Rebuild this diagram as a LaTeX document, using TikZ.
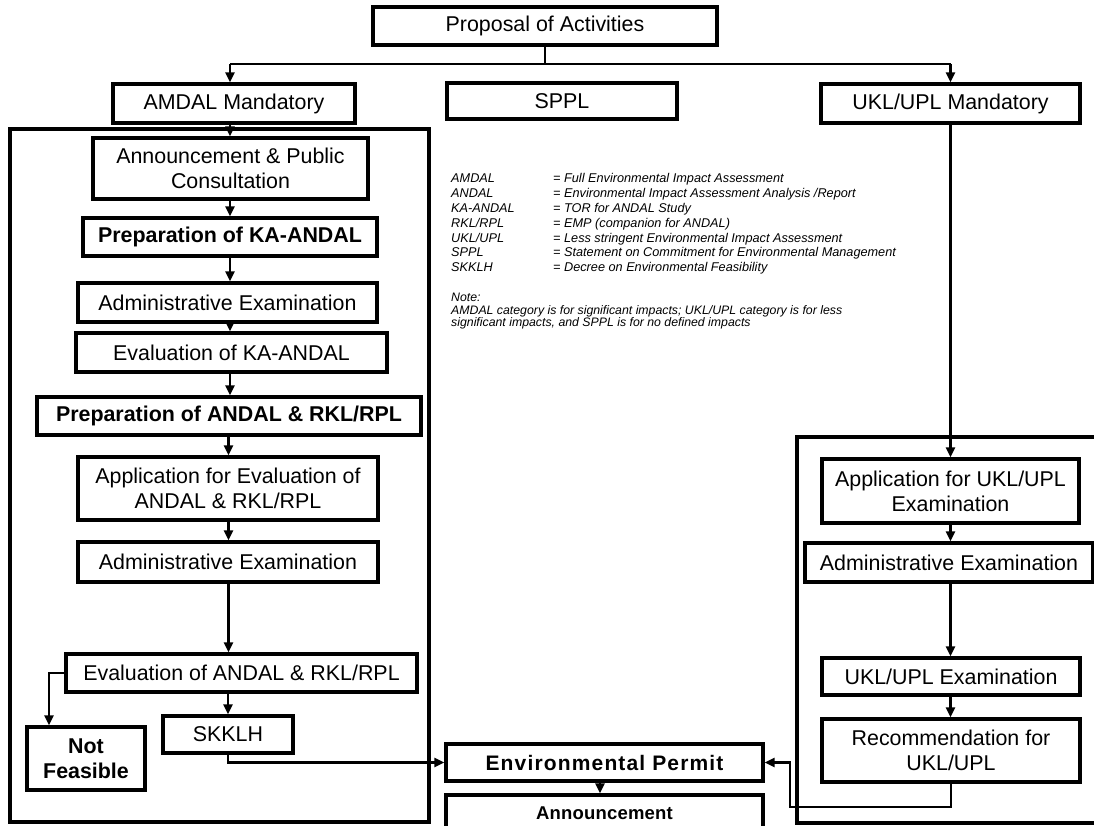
\documentclass[tikz,border=0pt]{standalone}
\usepackage{fontspec}
\setmainfont{Liberation Sans}
\newfontfamily\spacedA[LetterSpace=5.5]{Liberation Sans}
\newfontfamily\spacedB[LetterSpace=1]{Liberation Sans}
\usetikzlibrary{arrows.meta}
\begin{document}
\begin{tikzpicture}[x=1pt,y=-1pt,
  box/.style={draw, line width=3.2pt, inner sep=2pt, align=center, font=\fontsize{21.4}{25}\selectfont},
  bbox/.style={box, font=\fontsize{21.4}{25}\selectfont\bfseries},
  conn/.style={line width=2.7pt},
  arr/.style={conn, -{Triangle[length=10pt,width=9pt]}},
  frame/.style={line width=3.2pt},
  leg/.style={anchor=base west, inner sep=0pt, font=\fontsize{12.7}{14.9}\selectfont\itshape},
  notetext/.style={anchor=base west, inner sep=0pt, font=\fontsize{12.3}{12.5}\selectfont\itshape}]
\useasboundingbox (0,0) rectangle (1094,826);
\clip (0,0) rectangle (1094,826);
\fill[white] (0,0) rectangle (1094,826);

% frames
\draw[frame] (10,129) rectangle (429,822);
\draw[frame] (797,437) rectangle (1130,823);

% top level
\node[box, minimum width=344pt, minimum height=38pt] (prop) at (545,26) {Proposal of Activities};
\node[box, minimum width=242pt, minimum height=39pt] (amdalm) at (234,103.5) {AMDAL Mandatory};
\node[box, minimum width=230pt, minimum height=36pt] (sppl) at (562,101) {SPPL};
\node[box, minimum width=259pt, minimum height=39pt] (uklm) at (950.5,103.5) {UKL/UPL Mandatory};

% left column
\node[box, minimum width=275pt, minimum height=61pt] (ann) at (230.5,168.5) {Announcement \& Public\\Consultation};
\node[bbox, minimum width=294pt, minimum height=38pt] (prepka) at (230,237) {Preparation of KA-ANDAL};
\node[box, minimum width=299pt, minimum height=39pt] (adm1) at (227.5,302.5) {Administrative Examination};
\node[box, minimum width=311pt, minimum height=39pt] (evalka) at (231.5,352.5) {Evaluation of KA-ANDAL};
\node[bbox, minimum width=384pt, minimum height=38pt] (prepandal) at (229,416) {Preparation of ANDAL \& RKL/RPL};
\node[box, minimum width=300pt, minimum height=63pt] (appeval) at (228,488.5) {Application for Evaluation of\\ANDAL \& RKL/RPL};
\node[box, minimum width=300pt, minimum height=40pt] (adm2) at (228,562) {Administrative Examination};
\node[box, minimum width=351pt, minimum height=38pt] (evalandal) at (241.5,673) {Evaluation of ANDAL \& RKL/RPL};
\node[bbox, minimum width=118pt, minimum height=63pt] (notfeas) at (86,758.5) {Not\\Feasible};
\node[box, minimum width=130pt, minimum height=37pt] (skklh) at (228,734.5) {SKKLH};

% centre bottom
\node[draw, line width=3.2pt, minimum width=317pt, minimum height=37pt, font=\spacedA\fontsize{21}{24}\selectfont\bfseries] (envp) at (604.5,762.5) {Environmental Permit};
\node[draw, line width=3.2pt, minimum width=317pt, minimum height=37pt, font=\spacedB\fontsize{18.5}{21}\selectfont\bfseries] (annc) at (604.5,813.5) {Announcement};

% right column
\node[box, minimum width=257pt, minimum height=64pt] (appukl) at (950.5,491) {Application for UKL/UPL\\Examination};
\node[box, minimum width=288pt, minimum height=39pt] (adm3) at (949,562.5) {Administrative Examination};
\node[box, minimum width=258pt, minimum height=37pt] (uklexam) at (951,676.5) {UKL/UPL Examination};
\node[box, minimum width=258pt, minimum height=63pt] (recom) at (951,750.5) {Recommendation for\\UKL/UPL};

% legend
\node[leg] (a1) at (451,182.5) {AMDAL};
\node[leg] (d1) at (553,182.5) {= Full Environmental Impact Assessment};
\node[leg] (a2) at (451,197.4) {ANDAL};
\node[leg] (d2) at (553,197.4) {= Environmental Impact Assessment Analysis /Report};
\node[leg] (a3) at (451,212.3) {KA-ANDAL};
\node[leg] (d3) at (553,212.3) {= TOR for ANDAL Study};
\node[leg] (a4) at (451,227.2) {RKL/RPL};
\node[leg] (d4) at (553,227.2) {= EMP (companion for ANDAL)};
\node[leg] (a5) at (451,242.1) {UKL/UPL};
\node[leg] (d5) at (553,242.1) {= Less stringent Environmental Impact Assessment};
\node[leg] (a6) at (451,257.0) {SPPL};
\node[leg] (d6) at (553,257.0) {= Statement on Commitment for Environmental Management};
\node[leg] (a7) at (451,271.9) {SKKLH};
\node[leg] (d7) at (553,271.9) {= Decree on Environmental Feasibility};
\node[notetext] (n0) at (451,301.5) {Note:};
\node[notetext] (n1) at (451,314) {AMDAL category is for significant impacts; UKL/UPL category is for less};
\node[notetext] (n2) at (451,326.5) {significant impacts, and SPPL is for no defined impacts};

% connectors top
\coordinate (jl) at (230,64);
\coordinate (jr) at (950.5,64);
\draw[conn] (prop.south) -- (prop.south |- jl);
\draw[conn] (jl) -- (jr);
\draw[arr] (jl) -- (jl |- amdalm.north);
\draw[arr] (jr) -- (jr |- uklm.north);

% left column connectors
\draw[arr] (amdalm.south -| jl) -- (ann.north -| jl);
\draw[arr] (ann.south -| jl) -- (prepka.north -| jl);
\draw[arr] (prepka.south -| jl) -- (adm1.north -| jl);
\draw[arr] (adm1.south -| jl) -- (evalka.north -| jl);
\draw[arr] (evalka.south -| jl) -- (prepandal.north -| jl);
\coordinate (jl2) at (228.5,0);
\draw[arr] (prepandal.south -| jl2) -- (appeval.north -| jl2);
\draw[arr] (appeval.south -| jl2) -- (adm2.north -| jl2);
\draw[arr] (adm2.south -| jl2) -- (evalandal.north -| jl2);
\draw[arr] (evalandal.south -| skklh.north) -- (skklh.north);
\coordinate (nfc) at (49,673);
\draw[arr] (evalandal.west) -- (nfc) -- (nfc |- notfeas.north);
\draw[arr] (skklh.south) |- (envp.west);
\coordinate (ea) at (600,0);
\draw[arr] (envp.south -| ea) -- (annc.north -| ea);

% right column connectors
\coordinate (jr2) at (950.5,0);
\draw[arr] (uklm.south -| jr2) -- (appukl.north -| jr2);
\draw[arr] (appukl.south -| jr2) -- (adm3.north -| jr2);
\draw[arr] (adm3.south -| jr2) -- (uklexam.north -| jr2);
\draw[arr] (uklexam.south -| jr2) -- (recom.north -| jr2);
\coordinate (rc) at (790,807);
\draw[arr] (recom.south) |- (rc) |- (envp.east);
\end{tikzpicture}
\end{document}
